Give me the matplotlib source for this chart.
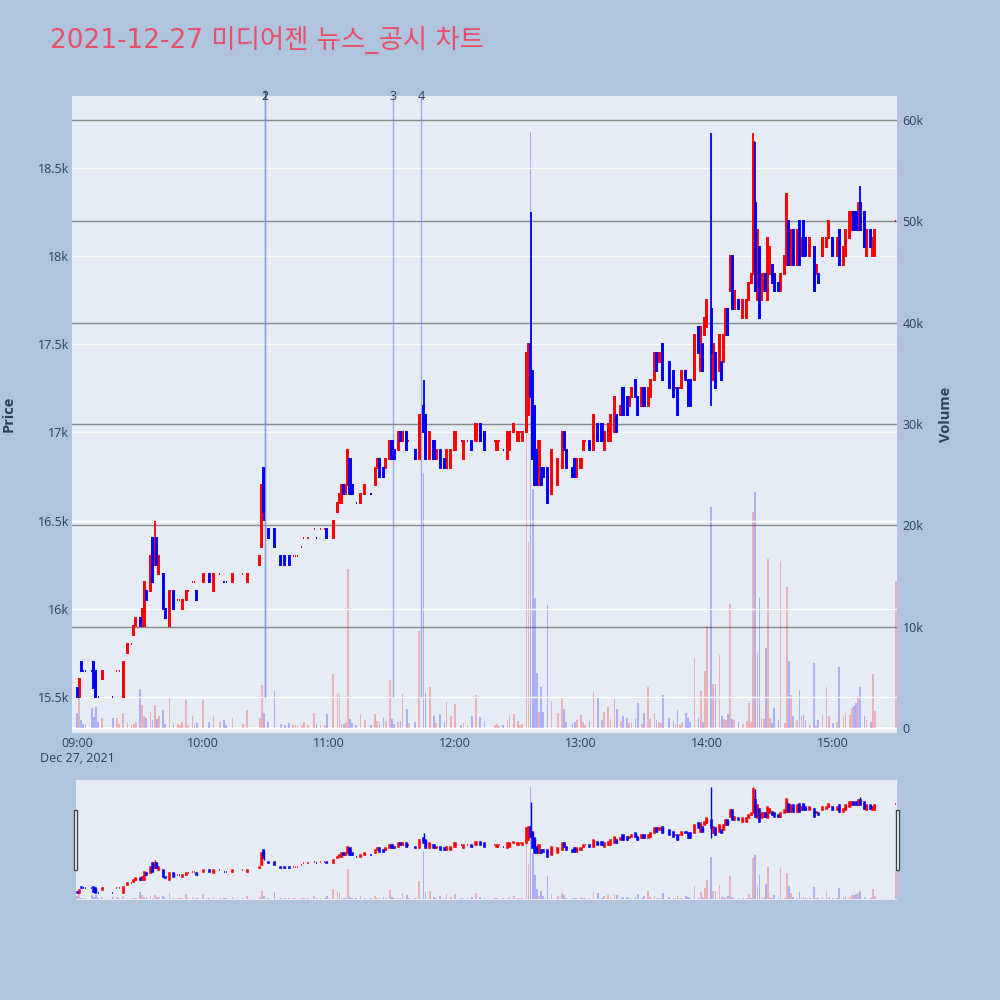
import matplotlib
matplotlib.use("Agg")
import matplotlib.pyplot as plt
from matplotlib.patches import Rectangle
import numpy as np

# minute bars of 2021-12-27, minutes counted from 09:00
minute = [0, 1, 2, 3, 4, 7, 8, 9, 10, 12, 17, 19, 20, 22, 24, 26, 27, 28, 30, 31, 32, 33, 35, 36, 37, 38, 39, 41, 42, 44, 46, 48, 49, 50, 52, 53, 55, 56, 57,
          60, 63, 65, 68, 70, 71, 74, 79, 81, 87, 88, 89, 91, 94, 97, 99, 101, 103, 104, 105, 107, 108, 110, 113, 114, 116, 118, 119,
          122, 124, 125, 126, 127, 128, 129, 130, 131, 133, 135, 137, 140, 142, 143, 144, 146, 147, 149, 150, 151, 153, 154, 155, 157, 158, 161, 163, 165, 166, 168, 170, 171, 173, 175, 176, 178, 180,
          183, 184, 186, 188, 190, 192, 194, 199, 200, 201, 203, 205, 206, 208, 210, 211, 212, 214, 215, 216, 217, 218, 219, 220, 221, 222, 224, 226, 229, 231, 232, 233, 236, 237, 238,
          240, 241, 242, 244, 246, 248, 250, 251, 253, 254, 256, 257, 259, 260, 262, 263, 264, 266, 267, 269, 270, 272, 273, 275, 276, 277, 278, 279, 282, 284, 285, 286, 287, 288, 290, 291, 292, 294, 296, 297, 298, 299, 300,
          302, 303, 304, 306, 307, 308, 309, 310, 311, 312, 313, 315, 317, 319, 320, 321, 322, 323, 324, 325, 326, 327, 328, 329, 330, 331, 332, 334, 335, 337, 338, 339, 340, 341, 343, 344, 345, 346, 347, 349, 351, 352, 353, 355, 357, 358,
          360, 362, 363, 365, 366, 368, 369, 370, 371, 372, 373, 375, 376, 378, 379, 380, 390]

open_ = [15550, 15500, 15700, 15650, 15650, 15650, 15700, 15650, 15500, 15600, 15500, 15650, 15650, 15500, 15750, 15800, 15850, 15900, 15950, 15900, 15900, 16100, 16100, 16400, 16250, 16400, 16200, 16200, 16000, 15900, 16100, 16050, 16050, 16000, 16050, 16100, 16150, 16150, 16100,
         16150, 16200, 16100, 16200, 16150, 16150, 16150, 16200, 16150, 16250, 16350, 16800, 16450, 16450, 16300, 16300, 16300, 16300, 16300, 16300, 16350, 16400, 16400, 16450, 16400, 16450, 16450, 16450,
         16400, 16550, 16600, 16600, 16700, 16650, 16700, 16850, 16700, 16600, 16600, 16650, 16650, 16700, 16800, 16850, 16800, 16800, 16850, 16950, 16900, 16900, 17000, 16950, 17000, 16950, 16900, 16850, 17150, 17100, 16850, 16950, 16850, 16900, 16850, 16800, 16800, 16900,
         16950, 16850, 16950, 16950, 16950, 17050, 17000, 16950, 16900, 16950, 16900, 16850, 16900, 17000, 16950, 17000, 16950, 17000, 17100, 17500, 17350, 17150, 16900, 16700, 16800, 16800, 16800, 16650, 16700, 16800, 17000, 16900, 16800, 16850, 16750,
         16800, 16900, 16950, 16950, 16900, 17050, 17050, 16900, 16950, 16950, 17000, 17100, 17100, 17250, 17200, 17150, 17200, 17300, 17200, 17150, 17250, 17150, 17200, 17300, 17450, 17400, 17400, 17500, 17400, 17350, 17250, 17250, 17250, 17250, 17350, 17300, 17300, 17300, 17600, 17350, 17500, 17550, 17600,
         17700, 17300, 17450, 17350, 17400, 17400, 17550, 17700, 17800, 18000, 17700, 17750, 17650, 17650, 17750, 17850, 17900, 18300, 17750, 18050, 17750, 17800, 17900, 17750, 17900, 17950, 17900, 17850, 17800, 17900, 17950, 18200, 17950, 18150, 17950, 18200, 18000, 18200, 18100, 18000, 18050, 17900, 17900, 18000, 18050, 18100,
         18100, 18000, 18150, 17950, 18000, 18100, 18150, 18250, 18250, 18150, 18300, 18250, 18000, 18150, 18000, 18000, 18200]

high = [15550, 15600, 15700, 15650, 15650, 15650, 15700, 15650, 15500, 15650, 15500, 15650, 15650, 15700, 15800, 15800, 15900, 15950, 15950, 16000, 16150, 16100, 16300, 16400, 16500, 16400, 16300, 16200, 16000, 16100, 16100, 16050, 16050, 16050, 16100, 16100, 16150, 16150, 16100,
        16200, 16200, 16200, 16200, 16150, 16150, 16200, 16200, 16200, 16300, 16700, 16800, 16450, 16450, 16300, 16300, 16300, 16300, 16300, 16300, 16350, 16400, 16400, 16450, 16400, 16450, 16450, 16450,
        16500, 16600, 16650, 16700, 16700, 16700, 16900, 16850, 16700, 16600, 16650, 16700, 16650, 16800, 16850, 16850, 16800, 16850, 16950, 16950, 16900, 17000, 17000, 17000, 17000, 16950, 16900, 17100, 17300, 17100, 17000, 16950, 16900, 16900, 16850, 16900, 16900, 17000,
        16950, 16950, 16950, 16950, 17050, 17050, 17000, 16950, 16950, 16950, 16900, 17000, 17000, 17050, 17000, 17000, 17000, 17450, 17500, 18250, 17350, 17150, 16900, 16950, 16800, 16800, 16800, 16900, 16850, 17000, 17000, 16900, 16800, 16850, 16850,
        16850, 16950, 16950, 16950, 17100, 17050, 17050, 17000, 17050, 17100, 17200, 17100, 17150, 17250, 17200, 17200, 17250, 17300, 17200, 17250, 17250, 17250, 17300, 17450, 17450, 17450, 17450, 17500, 17400, 17350, 17250, 17250, 17250, 17350, 17350, 17300, 17300, 17550, 17600, 17600, 17500, 17650, 17750,
        18700, 17500, 17450, 17550, 17400, 17550, 17700, 17700, 18000, 18000, 17800, 17750, 17750, 17750, 17850, 17900, 18700, 18650, 18150, 18050, 17900, 17900, 17900, 18100, 18050, 17950, 17900, 17850, 17900, 18000, 18350, 18200, 18150, 18150, 18150, 18200, 18100, 18200, 18100, 18100, 18050, 17950, 17900, 18100, 18100, 18200,
        18100, 18100, 18150, 18050, 18150, 18250, 18250, 18250, 18250, 18300, 18400, 18250, 18150, 18150, 18100, 18150, 18200]

low = [15500, 15500, 15650, 15650, 15650, 15650, 15550, 15500, 15500, 15600, 15500, 15650, 15650, 15500, 15750, 15800, 15850, 15900, 15900, 15900, 15900, 16050, 16100, 16150, 16250, 16250, 16200, 16000, 15950, 15900, 16000, 16050, 16050, 16000, 16050, 16100, 16150, 16150, 16050,
       16150, 16150, 16100, 16200, 16150, 16150, 16150, 16200, 16150, 16250, 16350, 16500, 16400, 16350, 16250, 16250, 16250, 16300, 16300, 16300, 16350, 16400, 16400, 16450, 16400, 16450, 16450, 16400,
       16400, 16550, 16600, 16600, 16650, 16650, 16700, 16650, 16650, 16600, 16600, 16650, 16650, 16700, 16800, 16750, 16750, 16800, 16850, 16850, 16850, 16900, 16950, 16950, 16900, 16950, 16850, 16850, 17000, 16850, 16850, 16850, 16850, 16800, 16800, 16800, 16800, 16900,
       16950, 16850, 16950, 16900, 16950, 16950, 16900, 16950, 16900, 16950, 16900, 16850, 16900, 17000, 16950, 17000, 16950, 17000, 17100, 17200, 16850, 16700, 16700, 16700, 16700, 16750, 16600, 16650, 16700, 16800, 16900, 16800, 16750, 16750, 16750,
       16800, 16900, 16950, 16900, 16900, 16950, 16950, 16900, 16950, 16950, 17000, 17000, 17100, 17100, 17100, 17150, 17200, 17200, 17100, 17150, 17150, 17150, 17200, 17300, 17350, 17400, 17400, 17300, 17250, 17200, 17250, 17100, 17250, 17250, 17300, 17150, 17150, 17300, 17450, 17350, 17350, 17550, 17600,
       17150, 17300, 17250, 17350, 17300, 17400, 17550, 17550, 17800, 17700, 17700, 17700, 17650, 17650, 17750, 17850, 17900, 17800, 17750, 17650, 17750, 17800, 17800, 17750, 17900, 17850, 17800, 17800, 17800, 17900, 17950, 17950, 17950, 17950, 17950, 17950, 18000, 18000, 18000, 18000, 17800, 17900, 17850, 18000, 18050, 18100,
       18000, 18000, 17950, 17950, 18000, 18100, 18150, 18150, 18150, 18150, 18150, 18050, 18000, 18050, 18000, 18000, 18200]

close = [15500, 15600, 15650, 15650, 15650, 15650, 15550, 15500, 15500, 15650, 15500, 15650, 15650, 15700, 15800, 15800, 15900, 15950, 15900, 16000, 16150, 16050, 16300, 16150, 16400, 16250, 16300, 16000, 15950, 16100, 16000, 16050, 16050, 16050, 16100, 16100, 16150, 16150, 16050,
         16200, 16150, 16200, 16200, 16150, 16150, 16200, 16200, 16200, 16300, 16700, 16550, 16400, 16350, 16250, 16250, 16250, 16300, 16300, 16300, 16350, 16400, 16400, 16450, 16400, 16450, 16450, 16400,
         16500, 16600, 16650, 16700, 16650, 16700, 16900, 16650, 16650, 16600, 16650, 16700, 16650, 16800, 16850, 16750, 16750, 16850, 16950, 16850, 16850, 17000, 16950, 17000, 16900, 16950, 16850, 17100, 17000, 16850, 17000, 16850, 16900, 16800, 16800, 16900, 16900, 17000,
         16950, 16950, 16950, 16900, 17050, 16950, 16900, 16950, 16950, 16950, 16900, 17000, 17000, 17050, 17000, 17000, 17000, 17450, 17500, 17200, 16850, 16700, 16700, 16950, 16700, 16750, 16600, 16900, 16850, 17000, 16900, 16800, 16750, 16750, 16850,
         16850, 16950, 16950, 16900, 17100, 16950, 16950, 17000, 17050, 17100, 17200, 17000, 17150, 17100, 17100, 17200, 17250, 17200, 17100, 17250, 17150, 17250, 17300, 17450, 17350, 17450, 17450, 17300, 17250, 17200, 17250, 17100, 17250, 17350, 17300, 17150, 17150, 17550, 17450, 17600, 17350, 17650, 17750,
         17450, 17500, 17250, 17550, 17300, 17550, 17700, 17550, 18000, 17700, 17800, 17700, 17750, 17750, 17850, 17900, 18650, 17800, 18150, 17650, 17900, 17900, 17800, 18100, 18050, 17850, 17800, 17800, 17900, 18000, 18350, 17950, 18150, 17950, 18150, 17950, 18100, 18000, 18000, 18100, 17800, 17950, 17850, 18100, 18100, 18200,
         18000, 18100, 17950, 18050, 18150, 18250, 18250, 18150, 18150, 18300, 18150, 18050, 18150, 18050, 18100, 18150, 18200]

volume = [1500, 3000, 800, 400, 300, 2000, 1100, 2100, 600, 1000, 1000, 1000, 400, 1500, 500, 300, 400, 600, 3900, 2300, 1200, 1000, 1600, 800, 2300, 900, 1200, 1800, 400, 3100, 500, 400, 300, 600, 2800, 300, 1200, 400, 500,
          2800, 600, 1200, 600, 800, 300, 1000, 400, 1800, 1000, 4200, 1500, 600, 3700, 400, 300, 500, 300, 300, 200, 300, 600, 300, 1500, 400, 300, 300, 1400,
          5300, 3500, 3300, 500, 400, 600, 15700, 900, 500, 300, 1400, 800, 300, 1400, 700, 600, 1000, 700, 4700, 900, 400, 600, 700, 3400, 1900, 500, 600, 9600, 25200, 3500, 4000, 1200, 500, 1400, 600, 2600, 1200, 2400,
          300, 500, 300, 1200, 3300, 1100, 700, 300, 400, 200, 300, 800, 1300, 1400, 700, 300, 400, 29000, 18400, 58800, 23600, 12800, 5400, 1600, 4000, 1600, 12100, 2700, 1500, 3100, 1900, 600, 500, 600, 800,
          1300, 600, 300, 700, 3600, 3100, 800, 1600, 2100, 900, 2900, 1900, 700, 1200, 1000, 500, 600, 900, 2500, 400, 1500, 4000, 900, 1500, 800, 600, 500, 3300, 1000, 700, 400, 1800, 300, 600, 1500, 1000, 600, 6900, 1000, 3700, 600, 5600, 10100,
          21800, 4300, 4300, 7200, 1200, 900, 800, 1400, 12200, 900, 800, 600, 400, 700, 2500, 600, 21300, 23300, 7500, 12800, 1000, 900, 7900, 16700, 1000, 500, 2000, 800, 16500, 500, 13900, 6600, 3300, 1200, 800, 3800, 1200, 1300, 800, 300, 6400, 300, 800, 1300, 4000, 1200,
          500, 600, 6000, 1200, 1500, 1300, 2000, 2200, 2500, 3000, 4000, 1200, 800, 600, 5300, 1700, 14500]

time_ticks = [0, 60, 120, 180, 240, 300, 360]
time_labels = ["09:00\nDec 27, 2021", "10:00", "11:00", "12:00", "13:00", "14:00", "15:00"]
price_ticks = [15500, 16000, 16500, 17000, 17500, 18000, 18500]
price_labels = ["15.5k", "16k", "16.5k", "17k", "17.5k", "18k", "18.5k"]
volume_ticks = [0, 10000, 20000, 30000, 40000, 50000, 60000]
volume_labels = ["0", "10k", "20k", "30k", "40k", "50k", "60k"]

# news / disclosure markers
news_minutes = [89.5, 89.5, 150.5, 163.8]
news_labels = ["1", "2", "3", "4"]

TITLE = "2021-12-27 미디어젠 뉴스_공시 차트"
UP = "#FF0000"
DOWN = "#0000FF"
PAPER = "#B0C4DE"
PLOT_BG = "#E5ECF6"
FONT_COLOR = "#2a3f5f"
PRICE_LIM = (15296, 18908)
VOLUME_LIM = (-490, 62370)

assert len({len(minute), len(open_), len(high), len(low), len(close), len(volume)}) == 1

m = np.array(minute, dtype=float)
o = np.array(open_, dtype=float)
h = np.array(high, dtype=float)
l = np.array(low, dtype=float)
c = np.array(close, dtype=float)
v = np.array(volume, dtype=float)


# plotly style direction: flat bars follow the change from the previous close
def directions():
    out = []
    prev_c, prev_dir = None, True
    for oo, cc in zip(o, c):
        if cc > oo:
            d = True
        elif cc < oo:
            d = False
        elif prev_c is None or cc == prev_c:
            d = prev_dir
        else:
            d = cc > prev_c
        out.append(d)
        prev_c, prev_dir = cc, d
    return np.array(out)


rising = directions()


def draw_bars(ax_p, ax_v, body_lw, wick_lw, body_w, vol_w):
    for flag, color in ((True, UP), (False, DOWN)):
        sel = rising == flag
        ax_v.bar(m[sel], v[sel], width=vol_w, color=color, alpha=0.25, linewidth=0, zorder=2)
        ax_p.vlines(m[sel], l[sel], h[sel], color=color, linewidth=wick_lw, zorder=3)
        ax_p.bar(m[sel], c[sel] - o[sel], bottom=o[sel], width=body_w, color=color,
                 edgecolor=color, linewidth=body_lw, zorder=3)


plt.rcParams['font.family'] = ['Open Sans', 'DejaVu Sans']

fig = plt.figure(figsize=(10, 10), dpi=100, facecolor=PAPER)

# ---- main chart ----
ax_p = fig.add_axes([0.072, 0.267, 0.825, 0.637])
ax_v = ax_p.twinx()
ax_p.set_zorder(ax_v.get_zorder() + 1)
ax_p.patch.set_visible(False)
ax_v.patch.set_visible(True)
ax_v.patch.set_facecolor(PLOT_BG)

draw_bars(ax_p, ax_v, body_lw=1.4, wick_lw=1.3, body_w=0.5, vol_w=0.8)

ax_p.set_xlim(-2.4, 390.5)
ax_p.set_ylim(*PRICE_LIM)
ax_v.set_ylim(*VOLUME_LIM)

for y in price_ticks:
    ax_p.axhline(y, color="white", linewidth=1.0, zorder=1)
for y in volume_ticks[1:]:
    ax_v.axhline(y, color="#8a8a8a", linewidth=1.0, zorder=1)
ax_v.axhline(0, color="white", linewidth=1.5, zorder=1)

ax_p.vlines(news_minutes, 15500, PRICE_LIM[1], color="#6f8fe0", linewidth=1.0, alpha=0.65, zorder=2)
for xm, lab in zip(news_minutes, news_labels):
    ax_p.text(xm, PRICE_LIM[1], lab, ha="center", va="center", fontsize=9,
              color=FONT_COLOR, clip_on=False, zorder=5)

ax_p.set_xticks(time_ticks)
ax_p.set_xticklabels(time_labels)
ax_p.set_yticks(price_ticks)
ax_p.set_yticklabels(price_labels)
ax_v.set_yticks(volume_ticks)
ax_v.set_yticklabels(volume_labels)
ax_p.tick_params(axis="x", length=0, pad=3, labelsize=9, colors=FONT_COLOR)
ax_p.tick_params(axis="y", length=0, pad=2, labelsize=9, colors=FONT_COLOR)
ax_v.tick_params(axis="y", length=0, pad=4, labelsize=9, colors=FONT_COLOR)
for ax in (ax_p, ax_v):
    for sp in ax.spines.values():
        sp.set_visible(False)

fig.text(0.009, 0.586, "Price", rotation=90, ha="center", va="center",
         fontsize=10.5, fontweight="bold", color=FONT_COLOR)
fig.text(0.946, 0.586, "Volume", rotation=90, ha="center", va="center",
         fontsize=10.5, fontweight="bold", color=FONT_COLOR)
fig.text(0.05, 0.96, TITLE, ha="left", va="center", fontsize=19, color="#E8506A",
         family=["DejaVu Sans", "Noto Sans CJK KR"])

# ---- range slider ----
ax_s = fig.add_axes([0.076, 0.1, 0.821, 0.12])
ax_sv = ax_s.twinx()
ax_s.set_zorder(ax_sv.get_zorder() + 1)
ax_s.patch.set_visible(False)
ax_sv.patch.set_visible(True)
ax_sv.patch.set_facecolor(PLOT_BG)
draw_bars(ax_s, ax_sv, body_lw=1.1, wick_lw=1.0, body_w=0.5, vol_w=0.8)
ax_s.set_xlim(-0.5, 390.5)
ax_s.set_ylim(*PRICE_LIM)
ax_sv.set_ylim(*VOLUME_LIM)
for ax in (ax_s, ax_sv):
    ax.set_xticks([])
    ax.set_yticks([])
    for sp in ax.spines.values():
        sp.set_visible(False)

for x0 in (0.0735, 0.8955):
    fig.patches.append(Rectangle((x0, 0.13), 0.0035, 0.06, transform=fig.transFigure,
                                 facecolor="white", edgecolor="#444444", linewidth=1.0, zorder=10))

fig.savefig("out.png", dpi=100, facecolor=PAPER)
